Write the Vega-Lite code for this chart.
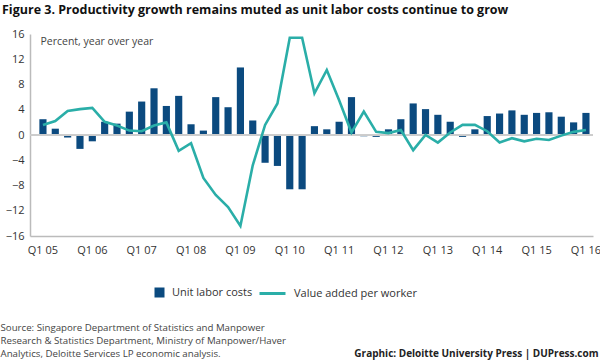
{
  "$schema": "https://vega.github.io/schema/vega-lite/v6.json",
  "autosize": {"type": "none"},
  "width": 563,
  "height": 202,
  "padding": {"left": 30, "top": 34, "right": 7, "bottom": 124},
  "background": "white",
  "config": {
    "view": {"stroke": null},
    "font": "Open Sans",
    "axis": {"labelFont": "Open Sans", "titleFont": "Open Sans"},
    "legend": {"labelFont": "Open Sans"}
  },
  "title": {
    "text": "Figure 3. Productivity growth remains muted as unit labor costs continue to grow",
    "anchor": "start",
    "frame": "group",
    "dx": -28,
    "offset": 12,
    "font": "Open Sans",
    "fontSize": 12.5,
    "fontWeight": "bold",
    "color": "#111111"
  },
  "data": {
    "values": [
      {"q": "Q1 05", "ulc": 2.5, "vaw": 1.6},
      {"q": "Q2 05", "ulc": 1.0, "vaw": 2.2},
      {"q": "Q3 05", "ulc": -0.4, "vaw": 3.8},
      {"q": "Q4 05", "ulc": -2.2, "vaw": 4.1},
      {"q": "Q1 06", "ulc": -1.0, "vaw": 4.3},
      {"q": "Q2 06", "ulc": 2.1, "vaw": 2.1},
      {"q": "Q3 06", "ulc": 1.8, "vaw": 1.5},
      {"q": "Q4 06", "ulc": 3.7, "vaw": 0.7},
      {"q": "Q1 07", "ulc": 5.3, "vaw": 0.6},
      {"q": "Q2 07", "ulc": 7.4, "vaw": 1.5},
      {"q": "Q3 07", "ulc": 4.6, "vaw": 2.0},
      {"q": "Q4 07", "ulc": 6.2, "vaw": -2.5},
      {"q": "Q1 08", "ulc": 1.7, "vaw": -1.3},
      {"q": "Q2 08", "ulc": 0.7, "vaw": -6.8},
      {"q": "Q3 08", "ulc": 6.0, "vaw": -9.5},
      {"q": "Q4 08", "ulc": 4.4, "vaw": -11.4},
      {"q": "Q1 09", "ulc": 10.7, "vaw": -14.4},
      {"q": "Q2 09", "ulc": 2.3, "vaw": -4.8},
      {"q": "Q3 09", "ulc": -4.4, "vaw": 1.6},
      {"q": "Q4 09", "ulc": -4.9, "vaw": 5.0},
      {"q": "Q1 10", "ulc": -8.6, "vaw": 15.4},
      {"q": "Q2 10", "ulc": -8.6, "vaw": 15.4},
      {"q": "Q3 10", "ulc": 1.4, "vaw": 6.6},
      {"q": "Q4 10", "ulc": 0.9, "vaw": 10.3},
      {"q": "Q1 11", "ulc": 2.1, "vaw": 5.5},
      {"q": "Q2 11", "ulc": 6.0, "vaw": 0.4},
      {"q": "Q3 11", "ulc": -0.2, "vaw": 3.7},
      {"q": "Q4 11", "ulc": -0.3, "vaw": 0.5},
      {"q": "Q1 12", "ulc": 0.9, "vaw": 0.3},
      {"q": "Q2 12", "ulc": 2.5, "vaw": 0.8},
      {"q": "Q3 12", "ulc": 5.0, "vaw": -2.4},
      {"q": "Q4 12", "ulc": 4.1, "vaw": 0.0},
      {"q": "Q1 13", "ulc": 3.2, "vaw": -1.2},
      {"q": "Q2 13", "ulc": 2.1, "vaw": 0.4},
      {"q": "Q3 13", "ulc": -0.3, "vaw": 1.6},
      {"q": "Q4 13", "ulc": 0.9, "vaw": 1.6},
      {"q": "Q1 14", "ulc": 3.0, "vaw": 0.6},
      {"q": "Q2 14", "ulc": 3.4, "vaw": -1.2},
      {"q": "Q3 14", "ulc": 3.9, "vaw": -0.5},
      {"q": "Q4 14", "ulc": 3.2, "vaw": -1.0},
      {"q": "Q1 15", "ulc": 3.5, "vaw": -0.6},
      {"q": "Q2 15", "ulc": 3.6, "vaw": -0.8},
      {"q": "Q3 15", "ulc": 2.9, "vaw": -0.1},
      {"q": "Q4 15", "ulc": 2.0, "vaw": 0.5},
      {"q": "Q1 16", "ulc": 3.5, "vaw": 0.8}
    ]
  },
  "layer": [
    {
      "mark": {"type": "bar"},
      "encoding": {
        "x": {
          "field": "q",
          "type": "ordinal",
          "sort": null,
          "scale": {"paddingInner": 0.42, "paddingOuter": 0.52, "align": 0.73},
          "axis": {
            "orient": "bottom",
            "values": ["Q1 05", "Q1 06", "Q1 07", "Q1 08", "Q1 09", "Q1 10", "Q1 11", "Q1 12", "Q1 13", "Q1 14", "Q1 15", "Q1 16"],
            "labelAngle": 0,
            "labelFontSize": 11,
            "labelColor": "#333333",
            "labelPadding": 8,
            "ticks": false,
            "domainColor": "#bbbbbb",
            "domainWidth": 1.5,
            "title": [
              "Source: Singapore Department of Statistics and Manpower",
              "Research & Statistics Department, Ministry of Manpower/Haver",
              "Analytics, Deloitte Services LP economic analysis."
            ],
            "titleX": -30,
            "titleY": 86,
            "titleAlign": "left",
            "titleAnchor": "start",
            "titleBaseline": "top",
            "titleFontSize": 9.7,
            "titleFontWeight": "normal",
            "titleColor": "#444444",
            "titleLineHeight": 13
          }
        },
        "y": {
          "field": "ulc",
          "type": "quantitative",
          "scale": {"domain": [-16, 16], "nice": false},
          "axis": {
            "values": [-16, -12, -8, -4, 0, 4, 8, 12, 16],
            "grid": false,
            "ticks": false,
            "labelFontSize": 11,
            "labelColor": "#333333",
            "labelPadding": 6,
            "domainColor": "#bbbbbb",
            "domainWidth": 1.5,
            "title": "Percent, year over year",
            "titleAngle": 0,
            "titleX": 10,
            "titleY": 2,
            "titleAlign": "left",
            "titleBaseline": "top",
            "titleFontSize": 10.5,
            "titleFontWeight": "normal",
            "titleColor": "#444444"
          }
        },
        "fill": {
          "datum": "Unit labor costs",
          "scale": {"range": ["#0b4a7f"]},
          "legend": {
            "title": null,
            "orient": "none",
            "legendX": 124,
            "legendY": 253,
            "padding": 0,
            "symbolType": "square",
            "symbolSize": 100,
            "symbolStrokeWidth": 0,
            "labelFontSize": 11,
            "labelColor": "#333333",
            "labelOffset": 7
          }
        }
      }
    },
    {
      "mark": {"type": "rule", "color": "#cccccc", "strokeWidth": 1},
      "encoding": {"y": {"datum": 0, "axis": null}}
    },
    {
      "mark": {"type": "line", "strokeWidth": 2.6},
      "encoding": {
        "x": {
          "field": "q",
          "type": "ordinal",
          "sort": null,
          "axis": {
            "orient": "top",
            "labels": false,
            "ticks": false,
            "domain": false,
            "grid": false,
            "title": "Graphic: Deloitte University Press  |  DUPress.com",
            "titleX": 568,
            "titleY": 322,
            "titleAlign": "right",
            "titleAnchor": "end",
            "titleBaseline": "alphabetic",
            "titleFontSize": 10,
            "titleFontWeight": "bold",
            "titleColor": "#222222"
          }
        },
        "y": {"field": "vaw", "type": "quantitative", "axis": null},
        "stroke": {
          "datum": "Value added per worker",
          "scale": {"range": ["#2aaea8"]},
          "legend": {
            "title": null,
            "orient": "none",
            "legendX": 228,
            "legendY": 245,
            "padding": 0,
            "symbolType": "stroke",
            "symbolSize": 676,
            "symbolStrokeWidth": 3,
            "labelFontSize": 11,
            "labelColor": "#333333",
            "labelOffset": 7
          }
        }
      }
    }
  ],
  "resolve": {"axis": {"x": "independent", "y": "independent"}}
}
